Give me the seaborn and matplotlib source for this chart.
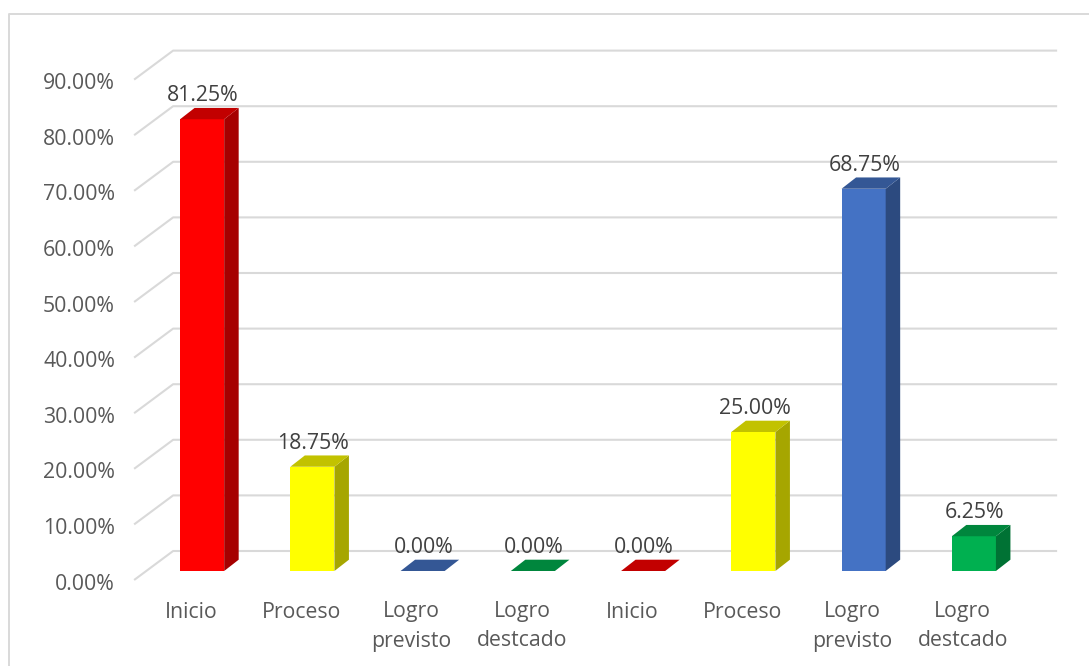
import matplotlib.pyplot as plt
import matplotlib.colors as mcolors
from matplotlib.lines import Line2D
from matplotlib.patches import Polygon
from matplotlib.transforms import ScaledTranslation
import pandas as pd
import seaborn as sns

categories = ["Inicio", "Proceso", "Logro\nprevisto", "Logro\ndestcado",
              "Inicio", "Proceso", "Logro\nprevisto", "Logro\ndestcado"]
values = [81.25, 18.75, 0.00, 0.00, 0.00, 25.00, 68.75, 6.25]
bar_colors = ["#FF0000", "#FFFF00", "#4472C4", "#00B050",
              "#FF0000", "#FFFF00", "#4472C4", "#00B050"]
y_ticks = [0, 10, 20, 30, 40, 50, 60, 70, 80, 90]

W, H = 1089, 666
DPI = 100

sns.set_style("white")
plt.rcParams["font.family"] = ["Open Sans", "DejaVu Sans"]

df = pd.DataFrame({"pos": list(range(len(values))), "value": values})

fig = plt.figure(figsize=(W / DPI, H / DPI), dpi=DPI, facecolor="white")
ax = fig.add_axes([147 / W, 1 - 571 / H, 882 / W, 500.4 / H])

sns.barplot(data=df, x="pos", y="value", hue="pos", palette=bar_colors,
            legend=False, width=0.4, saturation=1, linewidth=0, ax=ax, zorder=3)
ax.set_xlim(-0.5, 7.5)
ax.set_ylim(0, 90)
ax.set_xlabel("")
ax.set_ylabel("")
sns.despine(ax=ax, left=True, bottom=True)

# px to data units, the fake 3d is just offsets from the front plane
px_x = 1 / 110.25
px_y = 90 / 500.4
depth_x = 14.5 * px_x
depth_y = 11.3 * px_y


def shade(color, k):
    r, g, b = mcolors.to_rgb(color)
    return (r * k, g * k, b * k)


for bar, c in zip(ax.patches, bar_colors):
    x0 = bar.get_x()
    x1 = x0 + bar.get_width()
    h = bar.get_height()
    side = [(x1, 0), (x1 + depth_x, depth_y), (x1 + depth_x, h + depth_y), (x1, h)]
    top = [(x0, h), (x1, h), (x1 + depth_x, h + depth_y), (x0 + depth_x, h + depth_y)]
    if h > 0:
        ax.add_patch(Polygon(side, closed=True, fc=shade(c, 0.65), ec="none",
                             zorder=3, clip_on=False))
    ax.add_patch(Polygon(top, closed=True, fc=shade(c, 0.76), ec="none",
                         zorder=3, clip_on=False))
    ax.annotate(f"{h:.2f}%", (x0 + bar.get_width() / 2, h),
                xytext=(1 * 72 / DPI, 23.5 * 72 / DPI), textcoords="offset points",
                ha="center", va="center", fontsize=15.3, color="#404040",
                zorder=4, annotation_clip=False)

# back wall gridlines with the diagonal on the left
for v in y_ticks:
    ax.plot([(134 - 202) * px_x, (173 - 202) * px_x, (1057 - 202) * px_x],
            [v - 9 * px_y, v + 20 * px_y, v + 20 * px_y],
            color="#D9D9D9", lw=1.5, zorder=1, clip_on=False,
            solid_capstyle="butt")

ax.set_yticks(y_ticks)
ax.set_yticklabels([f"{v:.2f}%" for v in y_ticks])
ax.set_xticks(range(len(categories)))
ax.set_xticklabels(categories, linespacing=1.5)
ax.tick_params(axis="both", length=0, labelsize=15.3, labelcolor="#595959")
ax.tick_params(axis="y", pad=(147 - 115) * 72 / DPI)
ax.tick_params(axis="x", pad=(601.5 - 571) * 72 / DPI)

# labels sit off their ticks like in the excel 3d chart
for lab in ax.get_yticklabels():
    lab.set_transform(lab.get_transform()
                      + ScaledTranslation(0, -10.5 / DPI, fig.dpi_scale_trans))
for lab in ax.get_xticklabels():
    lab.set_transform(lab.get_transform()
                      + ScaledTranslation(-11 / DPI, 0, fig.dpi_scale_trans))

# chart frame
fig.add_artist(Line2D([8.5 / W, 8.5 / W, 1], [0, 1 - 14 / H, 1 - 14 / H],
                      color="#D9D9D9", lw=1.4))

fig.savefig("out.png", dpi=DPI)
